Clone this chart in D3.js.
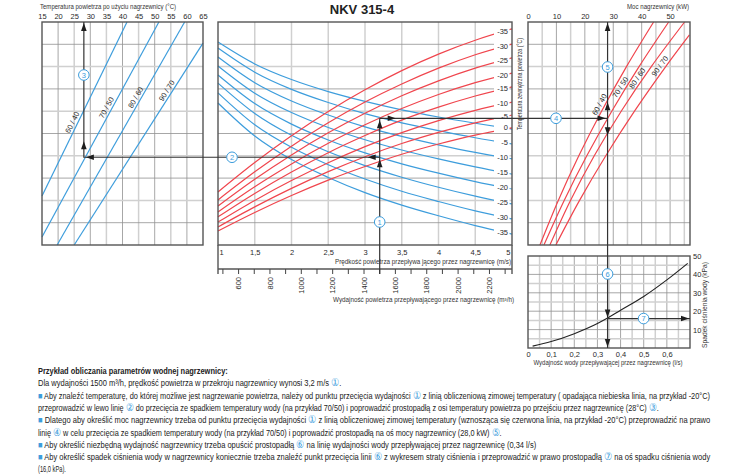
<!DOCTYPE html>
<html>
<head>
<meta charset="utf-8">
<script src="https://cdn.jsdelivr.net/npm/d3@7"></script>
<style>
body { margin: 0; background: #fff; }
text { font-family: "Liberation Sans", Arial, sans-serif; }
</style>
</head>
<body>
<script>
// tick labels
var tempOutTicks = [15, 20, 25, 30, 35, 40, 45, 50, 55, 60, 65];
var speedTicks = [1, 1.5, 2, 2.5, 3, 3.5, 4, 4.5, 5];
var airflowTicks = [600, 800, 1000, 1200, 1400, 1600, 1800, 2000, 2200];
var airflowMinor = [500, 600, 700, 800, 900, 1000, 1100, 1200, 1300, 1400, 1500, 1600, 1700, 1800, 1900, 2000, 2100, 2200, 2300];
var powerTicks = [0, 10, 20, 30, 40, 50];
var waterFlowTicks = [0, 0.1, 0.2, 0.3, 0.4, 0.5, 0.6];
var dropTicks = [10, 20, 30, 40, 50];

var regimes = ["60 / 40", "70 / 50", "80 / 60", "90 / 70"];

// left panel: air temperature after heater (°C) against chart row
var leftLines = [
  [[15, 2.2], [41.4, 10]],
  [[15, 0.36], [51.3, 10]],
  [[19.7, 0], [59.3, 10]],
  [[25, 0], [65, 9.05]]
];

// middle panel: curves read at these air speeds (m/s)
var speedPts = [1, 1.5, 2, 2.5, 3, 3.5, 4, 4.5, 5];
var blueTemps = [0, -5, -10, -15, -20, -25, -30, -35];
var blueRows = [
  [9.10, 8.12, 7.42, 6.88, 6.44, 6.06, 5.74, 5.46, 5.20],
  [8.83, 7.75, 6.98, 6.39, 5.89, 5.48, 5.13, 4.81, 4.53],
  [8.43, 7.28, 6.46, 5.83, 5.30, 4.87, 4.49, 4.15, 3.86],
  [8.03, 6.81, 5.94, 5.27, 4.72, 4.26, 3.86, 3.50, 3.18],
  [7.62, 6.34, 5.42, 4.71, 4.13, 3.64, 3.22, 2.84, 2.51],
  [7.26, 5.90, 4.92, 4.18, 3.56, 3.04, 2.59, 2.19, 1.84],
  [6.82, 5.39, 4.38, 3.60, 2.96, 2.41, 1.95, 1.53, 1.17],
  [6.37, 4.89, 3.83, 3.03, 2.35, 1.79, 1.31, 0.87, 0.49]
];
var redTemps = [-35, -30, -25, -20, -15, -10, -5, 0];
var redRows = [
  [2.38, 3.70, 4.90, 5.99, 6.96, 7.82, 8.56, 9.18, 9.69],
  [2.02, 3.28, 4.43, 5.48, 6.41, 7.22, 7.93, 8.53, 9.01],
  [1.75, 2.95, 4.04, 5.03, 5.91, 6.69, 7.36, 7.93, 8.39],
  [1.48, 2.61, 3.63, 4.56, 5.39, 6.12, 6.75, 7.28, 7.71],
  [1.26, 2.31, 3.27, 4.14, 4.91, 5.60, 6.18, 6.68, 7.09],
  [1.03, 2.00, 2.89, 3.69, 4.41, 5.04, 5.58, 6.04, 6.41],
  [0.81, 1.71, 2.54, 3.29, 3.96, 4.55, 5.05, 5.48, 5.83],
  [0.63, 1.46, 2.22, 2.91, 3.52, 4.07, 4.53, 4.93, 5.25]
];

// right panel: heater power (kW) against chart row
var powerRows = [
  [0, 2, 4, 6, 8, 10],
  [0, 2, 4, 6, 8, 10],
  [0, 2, 4, 6, 8, 10],
  [0, 2, 4, 6, 8, 9.42]
];
var powerKw = [
  [4.2, 10.66, 17.88, 25.88, 34.65, 44.2],
  [5.6, 12.73, 20.69, 29.47, 39.08, 49.5],
  [7.7, 14.95, 23.31, 32.79, 43.38, 55.1],
  [9.8, 18.14, 27.37, 37.47, 48.46, 56.8]
];

// water pressure drop
var waterFlow = [0.02, 0.1, 0.2, 0.3, 0.34, 0.4, 0.5, 0.6, 0.69];
var pressureDrop = [1, 3.5, 7.8, 13.3, 16, 20.5, 28, 37, 46];

// worked example
var exAirflow = 1500, exSpeed = 3.2, exWinter = -20, exRegime = 1;
var exTempAfter = 28, exPower = 28, exWaterFlow = 0.34, exDrop = 16;

var noteLines = [
  "Przykład obliczania parametrów wodnej nagrzewnicy:",
  "Dla wydajności 1500 m³/h, prędkość powietrza w przekroju nagrzewnicy wynosi 3,2 m/s ①.",
  "■ Aby znaleźć temperaturę, do której możliwe jest nagrzewanie powietrza, należy od punktu przecięcia wydajności ① z linią obliczeniową zimowej temperatury ( opadająca niebieska linia, na przykład -20°C)",
  "przeprowadzić w lewo linię ② do przecięcia ze spadkiem temperatury wody (na przykład 70/50) i poprowadzić prostopadłą z osi temperatury powietrza po przejściu przez nagrzewnicę (28°C) ③.",
  "■ Dlatego aby określić moc nagrzewnicy trzeba od punktu przecięcia wydajności ① z linią obliczeniowej zimowej temperatury (wznosząca się czerwona linia, na przykład -20°C) przeprowadzić na prawo",
  "linię ④ w celu przecięcia ze spadkiem temperatury wody (na przykład 70/50) i poprowadzić prostopadłą na oś mocy nagrzewnicy (28,0 kW) ⑤.",
  "■ Aby określić niezbędną wydajność nagrzewnicy trzeba opuścić prostopadłą ⑥ na linię wydajności wody przepływającej przez nagrzewnicę (0,34 l/s)",
  "■ Aby określić spadek ciśnienia wody w nagrzewnicy koniecznie trzeba znaleźć punkt przecięcia linii ⑥ z wykresem straty ciśnienia i przeprowadzić w prawo prostopadłą ⑦ na oś spadku ciśnienia wody",
  "(16,0 kPa)."
];
var noteEnd = [228, 342, 711, 660, 711, 503, 537, 711, 66];

var blue = "#3d9ddc", red = "#f0454d", ink = "#2a2a2a";

var svg = d3.select("body").append("svg").attr("width", 750).attr("height", 475);

var xL = d3.scaleLinear().domain([15, 65]).range([42, 203]);
var xM = d3.scaleLinear().domain([1, 5]).range([218, 512]);
var xR = d3.scaleLinear().domain([0, 57]).range([528, 690]);
var yA = d3.scaleLinear().domain([0, 10]).range([245, 22]);
var xQ = d3.scaleLinear().domain([0, 0.7]).range([528, 690]);
var yP = d3.scaleLinear().domain([0, 50]).range([348, 256]);
var speedOf = function(q) { return q / 468.75; }; // m3/h -> m/s in the heater section
var comma = function(d) { return String(d).replace(".", ","); };
var rows = d3.range(1, 10);

function interp(xs, ys, v) { return d3.scaleLinear().domain(xs).range(ys)(v); }

function vline(x, y1, y2, dark) {
  svg.append("line").attr("x1", x).attr("x2", x).attr("y1", y1).attr("y2", y2)
    .attr("stroke", dark ? "#909090" : "#d0d0d0").attr("stroke-width", dark ? 0.8 : 1.5);
}
function hline(y, x1, x2, dark) {
  svg.append("line").attr("x1", x1).attr("x2", x2).attr("y1", y).attr("y2", y)
    .attr("stroke", dark ? "#909090" : "#d0d0d0").attr("stroke-width", dark ? 0.8 : 1.5);
}
function frame(x1, y1, x2, y2) {
  svg.append("rect").attr("x", x1).attr("y", y1).attr("width", x2 - x1).attr("height", y2 - y1)
    .attr("fill", "none").attr("stroke", "#555").attr("stroke-width", 1.4);
}
function clean(g) {
  g.select(".domain").remove();
  g.selectAll("text").attr("fill", ink).style("font-size", "7.5px");
}

// ---- grids
tempOutTicks.slice(1, -1).forEach(function(v) { vline(xL(v), 22, 245, v % 10 == 0); });
rows.forEach(function(r) { hline(yA(r), 42, 203, r % 2 == 1); });

speedTicks.slice(1, -1).forEach(function(v) { vline(xM(v), 22, 245, false); });
rows.forEach(function(r) { hline(yA(r), 218, 512, r % 2 == 1); });

d3.range(5, 57, 5).forEach(function(v) { vline(xR(v), 22, 245, v % 10 == 0); });
rows.forEach(function(r) { hline(yA(r), 528, 690, r % 2 == 1); });

d3.range(1, 14).forEach(function(i) { vline(xQ(i * 0.05), 256, 348, i % 2 == 0); });
d3.range(1, 10).forEach(function(i) { hline(yP(i * 5), 528, 690, i % 2 == 0); });

// ---- left panel lines
var lineL = d3.line().x(function(d) { return xL(d[0]); }).y(function(d) { return yA(d[1]); });
leftLines.forEach(function(pts, i) {
  svg.append("path").attr("d", lineL(pts)).attr("fill", "none").attr("stroke", blue).attr("stroke-width", 1.2);
});
var leftLabelRow = [5.4, 6.05, 6.5, 6.8];
leftLines.forEach(function(pts, i) {
  var r = leftLabelRow[i];
  var t = interp([pts[0][1], pts[1][1]], [pts[0][0], pts[1][0]], r);
  var ang = Math.atan2(yA(pts[0][1]) - yA(pts[1][1]), xL(pts[1][0]) - xL(pts[0][0])) * 180 / Math.PI;
  svg.append("text").attr("transform", "translate(" + xL(t) + "," + yA(r) + ") rotate(" + (-ang) + ")")
    .attr("y", -2.5).attr("text-anchor", "middle").style("font-size", "7.5px").attr("fill", ink).text(regimes[i]);
});

// ---- middle panel curves
var lineM = d3.line().x(function(d) { return xM(d[0]); }).y(function(d) { return yA(d[1]); }).curve(d3.curveMonotoneX);
blueRows.forEach(function(rw) {
  svg.append("path").attr("d", lineM(speedPts.map(function(s, j) { return [s, rw[j]]; })))
    .attr("fill", "none").attr("stroke", blue).attr("stroke-width", 1.2);
});
redRows.forEach(function(rw) {
  svg.append("path").attr("d", lineM(speedPts.map(function(s, j) { return [s, rw[j]]; })))
    .attr("fill", "none").attr("stroke", red).attr("stroke-width", 1.2);
});
function curveLabel(row, txt) {
  var y = yA(interp(speedPts, row, 4.9));
  svg.append("rect").attr("x", 494).attr("y", y - 4.5).attr("width", 15.5).attr("height", 9).attr("fill", "#fff");
  svg.append("text").attr("x", 508).attr("y", y + 2.6).attr("text-anchor", "end")
    .style("font-size", "7.5px").attr("fill", ink).text(txt);
}
redRows.forEach(function(rw, i) { if (redTemps[i] != 0) curveLabel(rw, redTemps[i]); });
blueRows.forEach(function(rw, i) { curveLabel(rw, blueTemps[i]); });

// ---- right panel lines
var lineR = d3.line().x(function(d) { return xR(d[0]); }).y(function(d) { return yA(d[1]); }).curve(d3.curveCatmullRom);
powerKw.forEach(function(kw, i) {
  svg.append("path").attr("d", lineR(kw.map(function(k, j) { return [k, powerRows[i][j]]; })))
    .attr("fill", "none").attr("stroke", red).attr("stroke-width", 1.2);
});
var rightLabelRow = [6.19, 6.95, 7.35, 7.89];
powerKw.forEach(function(kw, i) {
  var r = rightLabelRow[i];
  var k = interp(powerRows[i], kw, r);
  var k0 = interp(powerRows[i], kw, r - 0.5), k1 = interp(powerRows[i], kw, r + 0.5);
  var ang = Math.atan2(yA(r - 0.5) - yA(r + 0.5), xR(k1) - xR(k0)) * 180 / Math.PI;
  svg.append("text").attr("transform", "translate(" + xR(k) + "," + yA(r) + ") rotate(" + (-ang) + ")")
    .attr("y", -2.5).attr("text-anchor", "middle").style("font-size", "7.5px").attr("fill", ink).text(regimes[i]);
});

// ---- pressure drop curve
var lineP = d3.line().x(function(d) { return xQ(d[0]); }).y(function(d) { return yP(d[1]); }).curve(d3.curveMonotoneX);
svg.append("path").attr("d", lineP(waterFlow.map(function(q, j) { return [q, pressureDrop[j]]; })))
  .attr("fill", "none").attr("stroke", "#222").attr("stroke-width", 1.1);

// ---- frames
frame(42, 22, 203, 245);
frame(218, 22, 512, 245);
frame(528, 22, 690, 245);
frame(528, 256, 690, 348);
svg.append("path").attr("d", "M218,245V274M512,245V274M218,269H512").attr("stroke", "#555").attr("stroke-width", 1.4).attr("fill", "none");
airflowMinor.forEach(function(q) {
  var x = xM(speedOf(q));
  svg.append("line").attr("x1", x).attr("x2", x).attr("y1", 269).attr("y2", 274).attr("stroke", "#444").attr("stroke-width", 1);
});

// ---- axes
svg.append("g").attr("transform", "translate(0,22)")
  .call(d3.axisTop(xL).tickValues(tempOutTicks).tickSize(0).tickPadding(3)).call(clean);
svg.append("g").attr("transform", "translate(0,22)")
  .call(d3.axisTop(xR).tickValues(powerTicks).tickSize(0).tickPadding(3)).call(clean);
var gm = svg.append("g").attr("transform", "translate(0,245)")
  .call(d3.axisBottom(xM).tickValues(speedTicks).tickFormat(comma).tickSize(0).tickPadding(5)).call(clean);
gm.selectAll(".tick text").attr("text-anchor", function(d) { return d == 1 ? "start" : d == 5 ? "end" : "middle"; })
  .attr("dx", function(d) { return d == 1 ? 1 : d == 5 ? -2 : 0; });
svg.append("g").attr("transform", "translate(0,348)")
  .call(d3.axisBottom(xQ).tickValues(waterFlowTicks).tickFormat(comma).tickSize(0).tickPadding(4)).call(clean);
svg.append("g").attr("transform", "translate(690,0)")
  .call(d3.axisRight(yP).tickValues(dropTicks).tickSize(0).tickPadding(3)).call(clean);

airflowTicks.forEach(function(q) {
  svg.append("text").attr("transform", "translate(" + xM(speedOf(q)) + ",277) rotate(-90)")
    .attr("text-anchor", "end").attr("dy", "0.35em").style("font-size", "7.5px").attr("fill", ink).text(q);
});

// ---- titles
function label(x, y, txt, len, anchor, rot) {
  var t = svg.append("text").attr("text-anchor", anchor || "start").style("font-size", "7px").attr("fill", "#333").text(txt);
  if (rot) t.attr("transform", "translate(" + x + "," + y + ") rotate(" + rot + ")");
  else t.attr("x", x).attr("y", y);
  if (len) t.attr("textLength", len).attr("lengthAdjust", "spacingAndGlyphs");
  return t;
}
svg.append("text").attr("x", 362).attr("y", 14).attr("text-anchor", "middle")
  .style("font-size", "13px").style("font-weight", "bold").attr("fill", "#222").text("NKV 315-4");
label(40, 8.5, "Temperatura powietrza po użyciu nagrzewnicy (°C)", 136);
label(689, 8.5, "Moc nagrzewnicy (kW)", 62, "end");
label(511, 264, "Prędkość powietrza przepływa jącego przez nagrzewnicę (m/s)", 176, "end");
label(514, 302, "Wydajność powietrza przepływającego przez nagrzewnicę (m³/h)", 181, "end");
label(522, 84, "Temperatura zewnętrzna powietrza (°C)", 92, "middle", -90);
label(608, 365, "Wydajność wody przepływającej przez nagrzewnicę (l/s)", 149, "middle");
label(707, 305, "Spadek ciśnienia wody (kPa)", 86, "middle", -90);

// ---- worked example
var X1 = xM(exSpeed);
var yBlue = yA(interp(speedPts, blueRows[blueTemps.indexOf(exWinter)], exSpeed));
var yRed = yA(interp(speedPts, redRows[redTemps.indexOf(exWinter)], exSpeed));
var XL = xL(exTempAfter), XR = xR(exPower), YP = yP(exDrop);
var guide = "M" + X1 + ",274V" + yRed +
  "M" + X1 + "," + yBlue + "H" + XL + "V22" +
  "M" + X1 + "," + yRed + "H" + XR +
  "M" + XR + ",22V348" +
  "M" + XR + "," + YP + "H690";
svg.append("path").attr("d", guide).attr("fill", "none").attr("stroke", "#333").attr("stroke-width", 1.2);

function arrow(x, y, dir) {
  var L = 8, w = 2.8, p;
  if (dir == "up") p = [[x, y], [x - w, y + L], [x + w, y + L]];
  if (dir == "down") p = [[x, y], [x - w, y - L], [x + w, y - L]];
  if (dir == "left") p = [[x, y], [x + L, y - w], [x + L, y + w]];
  if (dir == "right") p = [[x, y], [x - L, y - w], [x - L, y + w]];
  svg.append("path").attr("d", "M" + p.join("L") + "Z").attr("fill", "#1e1e1e");
}
arrow(X1, yBlue + 2, "up");
arrow(X1, yRed + 2, "up");
arrow(X1 - 12, yBlue, "left");
arrow(XL + 2, yBlue, "left");
arrow(XL, yBlue - 16, "up");
arrow(XL, 23, "up");
arrow(X1 + 16, yRed, "right");
arrow(XR - 2, yRed, "right");
arrow(XR, yRed - 16, "up");
arrow(XR, yRed + 17, "down");
arrow(XR, 23, "up");
arrow(XR, YP - 1, "down");
arrow(XR, 347, "down");
arrow(689, YP, "right");

function mark(x, y, txt) {
  svg.append("circle").attr("cx", x).attr("cy", y).attr("r", 5.3).attr("fill", "#fff").attr("stroke", blue).attr("stroke-width", 1);
  svg.append("text").attr("x", x).attr("y", y + 2.6).attr("text-anchor", "middle")
    .style("font-size", "7.5px").attr("fill", blue).text(txt);
}
mark(X1, 222, "1");
mark(232, yBlue, "2");
mark(XL, 75, "3");
mark(556, yRed, "4");
mark(XR, 67, "5");
mark(XR, 274, "6");
mark(xR(exPower) + 36, YP, "7");

// ---- notes: natural text, squeezed horizontally to the measured line widths
noteLines.forEach(function(s, i) {
  var t = svg.append("text").attr("x", 0).attr("y", 0)
    .style("font-size", "9px").attr("fill", "#222");
  if (i == 0) t.style("font-weight", "bold");
  s.split(/([\u2460-\u2466\u25a0])/).forEach(function(part) {
    if (!part) return;
    var circled = /[\u2460-\u2466]/.test(part), square = part == "\u25a0";
    var sp = t.append("tspan").attr("fill", circled || square ? blue : "#222").text(part);
    if (circled) sp.style("font-size", "11px");
  });
  var w = t.node().getComputedTextLength();
  t.attr("transform", "translate(38," + (374 + i * 12.3) + ") scale(" + ((noteEnd[i] - 38) / w) + ",1)");
});
</script>
</body>
</html>
